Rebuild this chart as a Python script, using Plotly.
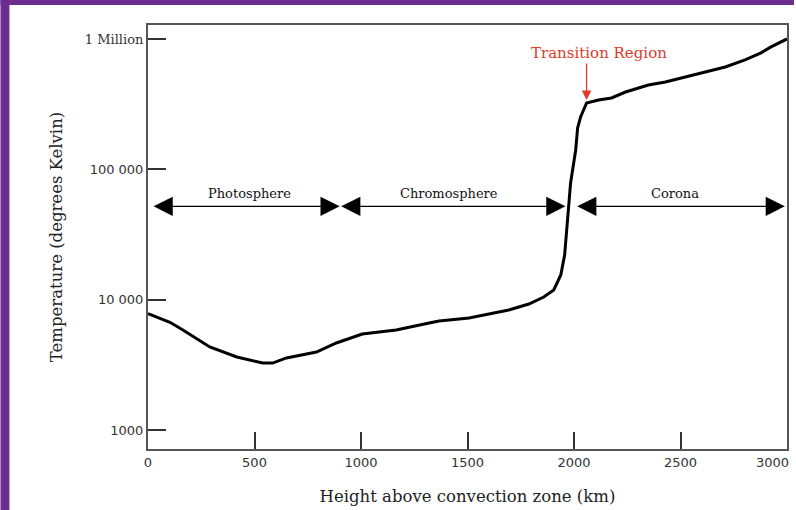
import math
import plotly.graph_objects as go

# ---- data ----
height_km = [0, 103, 164, 290, 417, 538, 585, 650, 791, 884, 1006, 1165, 1320, 1367,
             1507, 1601, 1694, 1788, 1858, 1905, 1938, 1956, 1966, 1975, 1984, 2008,
             2017, 2031, 2059, 2115, 2176, 2242, 2349, 2429, 2523, 2616, 2710, 2803,
             2878, 2925, 2972, 3000]
temperature_k = [7800, 6700, 5850, 4330, 3630, 3260, 3260, 3570, 3960, 4650, 5450, 5850,
                 6610, 6860, 7230, 7750, 8320, 9250, 10470, 11860, 15450, 21980, 34200,
                 58100, 78500, 140600, 207500, 251800, 322800, 340400, 352400, 391700,
                 443600, 467700, 511700, 558500, 609500, 690200, 781600, 868900, 948400,
                 1000000]

x_tickvals = [0, 500, 1000, 1500, 2000, 2500]
x_ticktext = ["0", "500", "1000", "1500", "2000", "2500"]
x_last_tick = 3000
y_tickvals = [1000, 10000, 100000, 1000000]
y_ticktext = ["1000", "10 000", "100 000", "1 Million"]

regions = ["Photosphere", "Chromosphere", "Corona"]
region_start = [19, 900, 2008]
region_end = [900, 1960, 2990]
region_label_x = [477, 1413, 2476]
region_temp = 52000

transition_label = "Transition Region"
transition_x = 2059
transition_label_x = 2115
transition_label_temp = 780000
transition_arrow_top = 665000
transition_arrow_tip = 340000

SERIF = "DejaVu Serif"
SANS = "DejaVu Sans"
PURPLE = "#6B2E8F"

fig = go.Figure()
fig.add_trace(go.Scatter(x=height_km, y=temperature_k, mode="lines",
                         line=dict(color="black", width=3), hoverinfo="skip",
                         showlegend=False))

lg = math.log10
annotations = []
for name, a, b, lx in zip(regions, region_start, region_end, region_label_x):
    annotations.append(dict(x=b, y=lg(region_temp), ax=a, ay=lg(region_temp),
                            xref="x", yref="y", axref="x", ayref="y", text="",
                            showarrow=True, arrowhead=2, arrowside="end+start",
                            arrowwidth=1.2, arrowsize=3.2, arrowcolor="black",
                            standoff=0, startstandoff=0))
    annotations.append(dict(x=lx, y=lg(region_temp), xref="x", yref="y", text=name,
                            showarrow=False, yshift=13,
                            font=dict(family=SERIF, size=13, color="#111")))

annotations.append(dict(x=transition_x, y=lg(transition_arrow_tip), ax=transition_x,
                        ay=lg(transition_arrow_top), xref="x", yref="y", axref="x",
                        ayref="y", text="", showarrow=True, arrowhead=2,
                        arrowwidth=1.2, arrowsize=1.6, arrowcolor="#E03A2A", standoff=0))
annotations.append(dict(x=transition_label_x, y=lg(transition_label_temp), xref="x",
                        yref="y", text=transition_label, showarrow=False,
                        font=dict(family=SERIF, size=15, color="#E03A2A")))
annotations.append(dict(x=x_last_tick, y=0, xref="x", yref="paper", text=str(x_last_tick),
                        showarrow=False, xanchor="right", yanchor="top", yshift=-4, xshift=4,
                        font=dict(family=SANS, size=13, color="#333")))

ticktext_y = [t if t != "1 Million" else
              '<span style="font-family:DejaVu Serif">1 Million</span>' for t in y_ticktext]

fig.update_layout(
    width=796, height=510,
    margin=dict(l=148, r=7, t=25, b=61),
    paper_bgcolor="white", plot_bgcolor="white",
    annotations=annotations,
    shapes=[
        dict(type="rect", xref="paper", yref="paper", x0=-148 / 641, x1=-139 / 641,
             y0=-61 / 424, y1=(424 + 25) / 424, fillcolor=PURPLE, line_width=0, layer="above"),
        dict(type="rect", xref="paper", yref="paper", x0=-148 / 641, x1=(641 + 7) / 641,
             y0=(424 + 20) / 424, y1=(424 + 25) / 424, fillcolor=PURPLE, line_width=0,
             layer="above"),
    ],
    xaxis=dict(range=[0, 3000], tickvals=x_tickvals, ticktext=x_ticktext,
               ticks="inside", ticklen=17, tickwidth=1.5, tickcolor="#333",
               showline=True, linecolor="#555", linewidth=2, mirror=True,
               showgrid=False, zeroline=False,
               tickfont=dict(family=SANS, size=13, color="#333"),
               title=dict(text="Height above convection zone (km)",
                          font=dict(family=SERIF, size=16.5, color="#222"), standoff=22)),
    yaxis=dict(type="log", range=[2.854, 6.107], tickvals=y_tickvals, ticktext=ticktext_y,
               ticks="inside", ticklen=18, tickwidth=1.5, tickcolor="#333",
               showline=True, linecolor="#555", linewidth=2, mirror=True,
               showgrid=False, zeroline=False,
               tickfont=dict(family=SANS, size=13, color="#333"),
               title=dict(text="Temperature (degrees Kelvin)",
                          font=dict(family=SERIF, size=16.5, color="#222"), standoff=18)),
)

fig.write_html("out.html")
